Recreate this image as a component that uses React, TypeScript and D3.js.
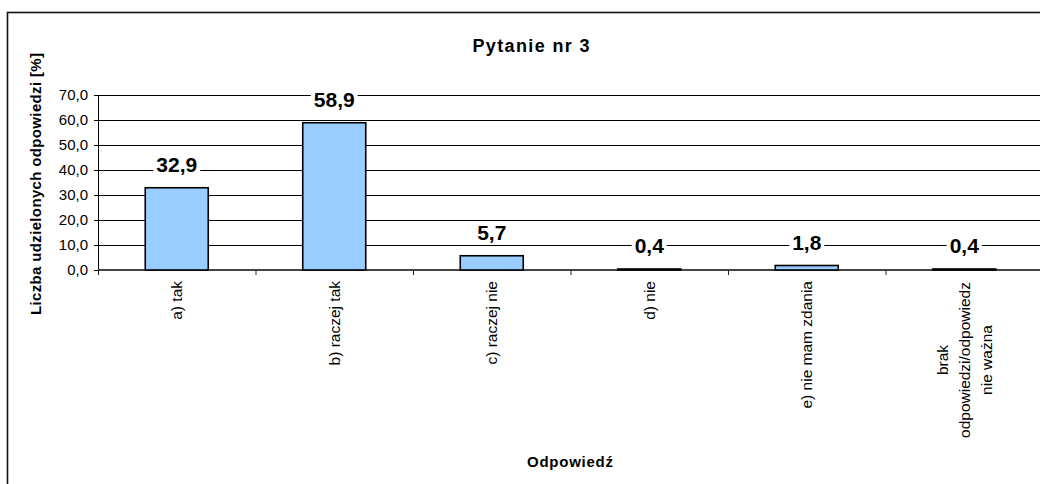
import React from "react";
import * as d3 from "d3";

const categories: string[][] = [
  ["a) tak"],
  ["b) raczej tak"],
  ["c) raczej nie"],
  ["d) nie"],
  ["e) nie mam zdania"],
  ["brak", "odpowiedzi/odpowiedz", "nie ważna"],
];
const values: number[] = [32.9, 58.9, 5.7, 0.4, 1.8, 0.4];
const yTicks: number[] = [0, 10, 20, 30, 40, 50, 60, 70];
const title = "Pytanie nr 3";
const yTitle = "Liczba udzielonych odpowiedzi [%]";
const xTitle = "Odpowiedź";

const fmt = (v: number) => v.toFixed(1).replace(".", ",");

export default function App() {
  const W = 1040;
  const H = 484;
  const left = 98;
  const right = 1043;
  const top = 95;
  const bottom = 270;
  const font = "'Liberation Sans', Arial, sans-serif";

  const x = d3
    .scaleBand<number>()
    .domain(values.map((_, i) => i))
    .range([left, right])
    .paddingInner(0.6)
    .paddingOuter(0.3);
  const step = (right - left) / values.length;
  const y = d3.scaleLinear().domain([0, 70]).range([bottom, top]);
  const vSize = 21;

  return (
    <svg
      width={W}
      height={H}
      style={{ position: "absolute", left: 0, top: 0, background: "#fff" }}
      fontFamily={font}
    >
      <rect x={7.5} y={12.5} width={1040} height={480} fill="#fff" stroke="#111" strokeWidth={1.6} />
      <text
        x={531}
        y={52}
        textAnchor="middle"
        fontWeight="bold"
        fontSize={18}
        textLength={117}
        lengthAdjust="spacing"
      >
        {title}
      </text>
      {/* gridlines */}
      {yTicks.slice(1).map((t) => (
        <line key={"g" + t} x1={left} x2={right} y1={y(t) + 0.5} y2={y(t) + 0.5} stroke="#000" strokeWidth={1} />
      ))}
      {/* y axis */}
      <line x1={left + 0.5} x2={left + 0.5} y1={top} y2={bottom + 5} stroke="#000" strokeWidth={1} />
      {yTicks.map((t) => (
        <g key={"t" + t}>
          <line x1={left - 4} x2={left} y1={y(t) + 0.5} y2={y(t) + 0.5} stroke="#000" />
          <text x={88} y={y(t) + 5} textAnchor="end" fontSize={15}>
            {fmt(t)}
          </text>
        </g>
      ))}
      {/* x axis */}
      <line x1={left} x2={right} y1={bottom} y2={bottom} stroke="#444" strokeWidth={2} />
      {values.map((_, i) => (
        <line
          key={"xt" + i}
          x1={left + step * i + 0.5}
          x2={left + step * i + 0.5}
          y1={bottom}
          y2={bottom + 5}
          stroke="#222"
        />
      ))}
      {/* bars */}
      {values.map((v, i) => (
        <rect
          key={"b" + i}
          x={x(i)!}
          y={y(v)}
          width={x.bandwidth()}
          height={Math.max(bottom - y(v), 0.5)}
          fill="#99CCFF"
          stroke="#000"
          strokeWidth={1.6}
        />
      ))}
      {/* value labels */}
      {values.map((v, i) => {
        const cx = x(i)! + x.bandwidth() / 2;
        const by = y(v) - 16;
        const label = fmt(v);
        const w = label.split("").reduce((s, c) => s + (c === "," ? 0.278 : 0.556), 0) * vSize;
        return (
          <g key={"v" + i}>
            <rect x={cx - w / 2 - 3} y={by - 17} width={w + 6} height={21} fill="#fff" />
            <text x={cx} y={by} textAnchor="middle" fontWeight="bold" fontSize={vSize}>
              {label}
            </text>
          </g>
        );
      })}
      {/* category labels */}
      {categories.map((lines, i) => {
        const cx = x(i)! + x.bandwidth() / 2;
        const n = lines.length;
        const lh = 22;
        const longest = Math.max(...lines.map((l) => l.length));
        const blockLen = longest * 7.9;
        const ty = 281;
        return (
          <g key={"c" + i} transform={`translate(${cx},${ty}) rotate(-90)`}>
            {lines.map((l, j) => (
              <text
                key={j}
                x={n === 1 ? 0 : -blockLen / 2}
                y={(j - (n - 1) / 2) * lh + 5.5}
                textAnchor={n === 1 ? "end" : "middle"}
                fontSize={15.5}
              >
                {l}
              </text>
            ))}
          </g>
        );
      })}
      {/* axis titles */}
      <text x={570} y={467} textAnchor="middle" fontWeight="bold" fontSize={15} textLength={86} lengthAdjust="spacing">
        {xTitle}
      </text>
      <text
        transform={`translate(41,184) rotate(-90)`}
        textAnchor="middle"
        fontWeight="bold"
        fontSize={15}
        textLength={262}
        lengthAdjust="spacing"
      >
        {yTitle}
      </text>
    </svg>
  );
}
